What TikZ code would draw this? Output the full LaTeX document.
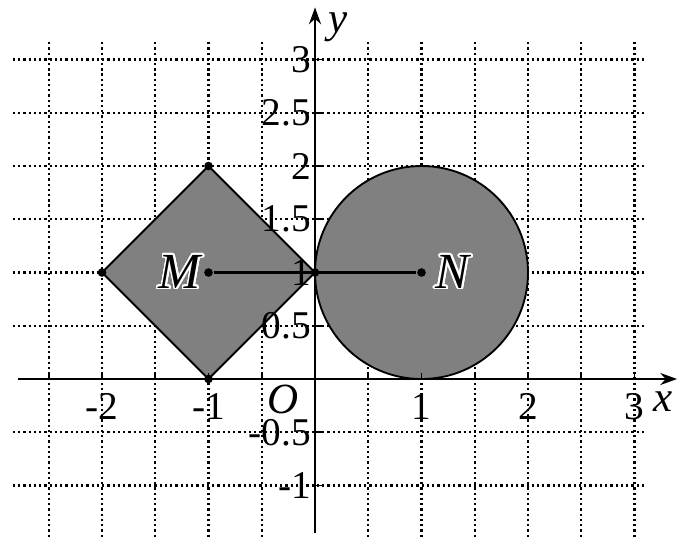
\documentclass[tikz,border=0pt]{standalone}
\usepackage{fontspec}
\setmainfont{Liberation Serif}
\usepackage{contour}
\contourlength{0.45pt}
\contournumber{24}
\usetikzlibrary{arrows.meta}
\begin{document}
\begin{tikzpicture}[x=1cm,y=1cm,
  gridline/.style={line width=0.6pt,dash pattern=on 0.6pt off 0.8pt},
  axisline/.style={line width=0.6pt,-{Stealth[length=4.5pt,width=3.2pt]}},
  tick/.style={line width=0.5pt},
  shapeline/.style={draw=black,line width=0.5pt,fill=shadegray},
  pt/.style={circle,fill=black,inner sep=0pt,minimum size=2.3pt},
  num/.style={inner sep=0pt,font=\fontsize{10.5}{12}\selectfont},
  lab/.style={inner sep=0pt,font=\fontsize{11.5}{13}\selectfont\itshape},
  big/.style={inner sep=0pt,font=\fontsize{13.5}{15}\selectfont\itshape}]
\definecolor{shadegray}{RGB}{128,128,128}
\useasboundingbox (-2.958,-1.502) rectangle (3.399,3.559);
% grid
\foreach \yy in {-1,-0.5,0.5,1,1.5,2,2.5,3}
  \draw[gridline] (-2.836,\yy) -- (3.10,\yy);
\foreach \xx in {-2.5,-2,-1.5,-1,-0.5,0.5,1,1.5,2,2.5,3}
  \draw[gridline] (\xx,3.164) -- (\xx,-1.502);
% shapes
\draw[shapeline] (-2,1) -- (-1,2) -- (0,1) -- (-1,0) -- cycle;
\draw[shapeline] (1,1) circle (1);
% points
\node[pt] (A) at (-2,1) {};
\node[pt] (B) at (-1,2) {};
\node[pt] (C) at (0,1) {};
\node[pt] (D) at (-1,0) {};
\node[pt] (M) at (-1,1) {};
\node[pt] (N) at (1,1) {};
\draw[line width=0.6pt] (M) -- (N);
% axes
\coordinate (xs) at (-2.79,0);
\coordinate (xe) at (3.40,0);
\coordinate (ys) at (0,-1.446);
\coordinate (ye) at (0,3.49);
\draw[axisline] (xs) -- (xe);
\draw[axisline] (ys) -- (ye);
% ticks
\foreach \xx in {-2.5,-2,-1.5,-1,-0.5,0.5,1,1.5,2,2.5,3}
  \draw[tick] (\xx,0) -- (\xx,0.06);
\foreach \yy in {-1,-0.5,0.5,1,1.5,2,2.5,3}
  \draw[tick] (0,\yy) -- (0.07,\yy);
% x labels
\foreach \xx/\tt in {-2/-2,-1/-1,1/1,2/2,3/3}
  \node[num] (xl\xx) at (\xx,-0.26) {\tt};
\node[lab] (O) at (-0.30,-0.19) {O};
\node[lab] (xlab) at (3.27,-0.21) {x};
\node[lab] (ylab) at (0.22,3.30) {y};
% y labels
\foreach \yy/\tt in {3/3,2.5/2.5,2/2,1.5/1.5,1/1,0.5/0.5,-0.5/-0.5,-1/-1}
  \node[num,anchor=east] (yl\yy) at (-0.03,\yy) {\tt};
% M N labels
\node[big] (Mlab) at (-1.27,1.0) {\contour{white}{\textit{M}}};
\node[big] (Nlab) at (1.29,1.0) {\contour{white}{\textit{N}}};
\end{tikzpicture}
\end{document}
